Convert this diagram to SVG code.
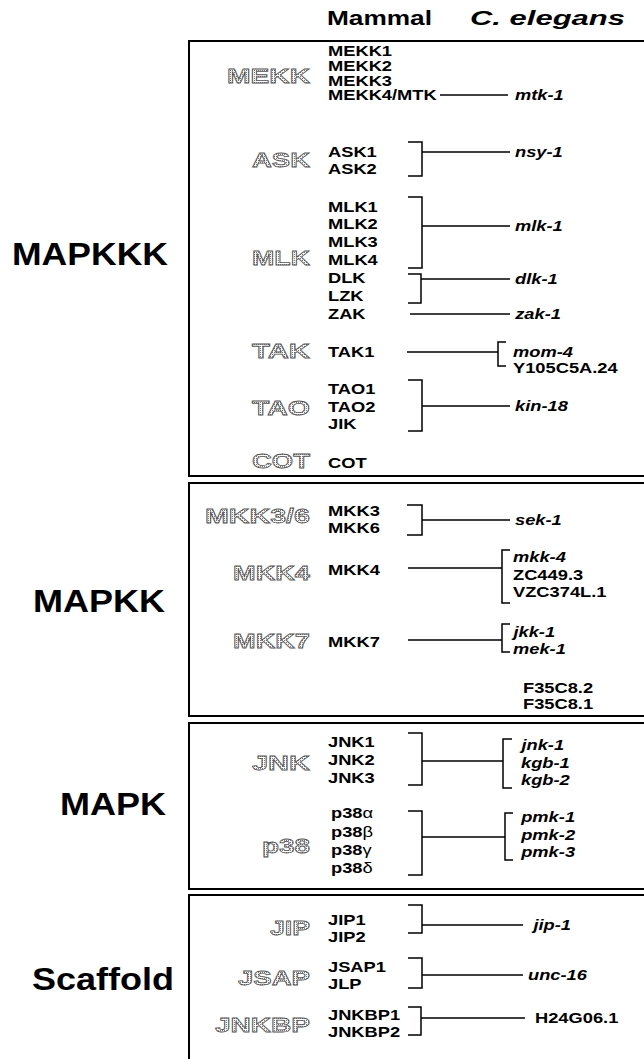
<svg xmlns="http://www.w3.org/2000/svg" width="644" height="1059" viewBox="0 0 644 1059">
<defs>
<pattern id="dots" width="2" height="2" patternUnits="userSpaceOnUse"><rect width="2" height="2" fill="#fff"/><rect width="1" height="1" fill="#7a7a7a"/></pattern>
<style>
.box{fill:none;stroke:#000;stroke-width:2}
.ln{fill:none;stroke:#000;stroke-width:1.5}
.big{font-family:"Liberation Sans",Arial,sans-serif;font-weight:bold;font-size:32px;fill:#000}
.hd{font-family:"Liberation Sans",Arial,sans-serif;font-weight:bold;font-size:21px;fill:#000;transform-box:fill-box;transform-origin:0 0;transform:scale(1.25,1)}
.hdi{font-style:italic}
.fam{font-family:"Liberation Sans",Arial,sans-serif;font-weight:bold;font-size:21px;fill:url(#dots);stroke:#555;stroke-width:0.8}
.nm{font-family:"Liberation Sans",Arial,sans-serif;font-weight:bold;font-size:15px;fill:#000;transform-box:fill-box;transform-origin:0 0;transform:scale(1.22,1)}
.ce{font-style:italic}
.gr{font-weight:normal}
</style>
</defs>
<rect width="644" height="1059" fill="#fff"/>
<g id="sections">
<rect class="box" x="189" y="41" width="520" height="435"/>
<rect class="box" x="189" y="483" width="520" height="233"/>
<rect class="box" x="189" y="723" width="520" height="166"/>
<rect class="box" x="189" y="895" width="520" height="200"/>
</g>
<g id="headers">
<text class="hd" x="327" y="25">Mammal</text>
<text class="hd hdi" x="470" y="25" textLength="124" lengthAdjust="spacingAndGlyphs">C. elegans</text>
</g>
<g id="levels">
<text class="big" x="12" y="265" textLength="156" lengthAdjust="spacingAndGlyphs">MAPKKK</text>
<text class="big" x="33" y="612" textLength="132" lengthAdjust="spacingAndGlyphs">MAPKK</text>
<text class="big" x="60" y="815" textLength="106" lengthAdjust="spacingAndGlyphs">MAPK</text>
<text class="big" x="32" y="990" textLength="142" lengthAdjust="spacingAndGlyphs">Scaffold</text>
</g>
<g id="connectors">
<path class="ln" d="M440 95H508"/>
<path class="ln" d="M408 142H422V176H408M422 152H510"/>
<path class="ln" d="M408 197H422V268H408M422 226H510"/>
<path class="ln" d="M408 274H421V303H408M421 279H510"/>
<path class="ln" d="M410 314H510"/>
<path class="ln" d="M407 352H498M506 342H498V366H506"/>
<path class="ln" d="M408 380H422V431H408M422 406H510"/>
<path class="ln" d="M407 505H422V535H407M422 520H510"/>
<path class="ln" d="M408 568H502M510 550H502V603H510"/>
<path class="ln" d="M408 640H502M510 624H502V652H510"/>
<path class="ln" d="M408 733H422V785H408M422 761H503M512 739H503V788H512"/>
<path class="ln" d="M408 811H422V875H408M422 837H505M513 813H505V860H513"/>
<path class="ln" d="M408 905H422V933H408M422 925H523"/>
<path class="ln" d="M408 958H422V988H408M422 975H523"/>
<path class="ln" d="M408 1007H421V1035H408M421 1018H525"/>
</g>
<g id="mekk">
<text class="fam" x="227" y="83" textLength="83" lengthAdjust="spacingAndGlyphs">MEKK</text>
<text class="nm" x="328" y="56">MEKK1</text>
<text class="nm" x="328" y="71">MEKK2</text>
<text class="nm" x="328" y="86">MEKK3</text>
<text class="nm" x="328" y="100">MEKK4/MTK</text>
<text class="nm ce" x="515" y="100">mtk-1</text>
</g>
<g id="ask">
<text class="fam" x="252" y="167" textLength="58" lengthAdjust="spacingAndGlyphs">ASK</text>
<text class="nm" x="328" y="157">ASK1</text>
<text class="nm" x="328" y="174">ASK2</text>
<text class="nm ce" x="515" y="157">nsy-1</text>
</g>
<g id="mlk">
<text class="fam" x="252" y="265" textLength="58" lengthAdjust="spacingAndGlyphs">MLK</text>
<text class="nm" x="328" y="212">MLK1</text>
<text class="nm" x="328" y="229">MLK2</text>
<text class="nm" x="328" y="247">MLK3</text>
<text class="nm" x="328" y="265">MLK4</text>
<text class="nm" x="328" y="283">DLK</text>
<text class="nm" x="328" y="301">LZK</text>
<text class="nm" x="328" y="319">ZAK</text>
<text class="nm ce" x="515" y="231">mlk-1</text>
<text class="nm ce" x="515" y="284">dlk-1</text>
<text class="nm ce" x="515" y="319">zak-1</text>
</g>
<g id="tak">
<text class="fam" x="252" y="358" textLength="58" lengthAdjust="spacingAndGlyphs">TAK</text>
<text class="nm" x="328" y="357">TAK1</text>
<text class="nm ce" x="513" y="357">mom-4</text>
<text class="nm" x="513" y="373">Y105C5A.24</text>
</g>
<g id="tao">
<text class="fam" x="252" y="415" textLength="58" lengthAdjust="spacingAndGlyphs">TAO</text>
<text class="nm" x="328" y="394">TAO1</text>
<text class="nm" x="328" y="412">TAO2</text>
<text class="nm" x="328" y="429">JIK</text>
<text class="nm ce" x="515" y="411">kin-18</text>
</g>
<g id="cot">
<text class="fam" x="252" y="468" textLength="58" lengthAdjust="spacingAndGlyphs">COT</text>
<text class="nm" x="328" y="468">COT</text>
</g>
<g id="mkk36">
<text class="fam" x="205" y="523" textLength="105" lengthAdjust="spacingAndGlyphs">MKK3/6</text>
<text class="nm" x="328" y="516">MKK3</text>
<text class="nm" x="328" y="533">MKK6</text>
<text class="nm ce" x="515" y="525">sek-1</text>
</g>
<g id="mkk4">
<text class="fam" x="233" y="580" textLength="77" lengthAdjust="spacingAndGlyphs">MKK4</text>
<text class="nm" x="328" y="575">MKK4</text>
<text class="nm ce" x="513" y="562">mkk-4</text>
<text class="nm" x="513" y="580">ZC449.3</text>
<text class="nm" x="513" y="597">VZC374L.1</text>
</g>
<g id="mkk7">
<text class="fam" x="233" y="648" textLength="77" lengthAdjust="spacingAndGlyphs">MKK7</text>
<text class="nm" x="328" y="647">MKK7</text>
<text class="nm ce" x="513" y="637">jkk-1</text>
<text class="nm ce" x="513" y="654">mek-1</text>
</g>
<g id="f35c8">
<text class="nm" x="523" y="693">F35C8.2</text>
<text class="nm" x="523" y="709">F35C8.1</text>
</g>
<g id="jnk">
<text class="fam" x="252" y="770" textLength="58" lengthAdjust="spacingAndGlyphs">JNK</text>
<text class="nm" x="328" y="747">JNK1</text>
<text class="nm" x="328" y="765">JNK2</text>
<text class="nm" x="328" y="783">JNK3</text>
<text class="nm ce" x="521" y="750">jnk-1</text>
<text class="nm ce" x="521" y="768">kgb-1</text>
<text class="nm ce" x="521" y="785">kgb-2</text>
</g>
<g id="p38">
<text class="fam" x="262" y="853" textLength="48" lengthAdjust="spacingAndGlyphs">p38</text>
<text class="nm" x="331" y="818">p38<tspan class="gr">α</tspan></text>
<text class="nm" x="331" y="837">p38<tspan class="gr">β</tspan></text>
<text class="nm" x="331" y="855">p38<tspan class="gr">γ</tspan></text>
<text class="nm" x="331" y="873">p38<tspan class="gr">δ</tspan></text>
<text class="nm ce" x="521" y="822">pmk-1</text>
<text class="nm ce" x="521" y="840">pmk-2</text>
<text class="nm ce" x="521" y="857">pmk-3</text>
</g>
<g id="jip">
<text class="fam" x="270" y="935" textLength="40" lengthAdjust="spacingAndGlyphs">JIP</text>
<text class="nm" x="328" y="925">JIP1</text>
<text class="nm" x="328" y="942">JIP2</text>
<text class="nm ce" x="533" y="930">jip-1</text>
</g>
<g id="jsap">
<text class="fam" x="238" y="985" textLength="72" lengthAdjust="spacingAndGlyphs">JSAP</text>
<text class="nm" x="328" y="972">JSAP1</text>
<text class="nm" x="328" y="989">JLP</text>
<text class="nm ce" x="528" y="980">unc-16</text>
</g>
<g id="jnkbp">
<text class="fam" x="215" y="1032" textLength="95" lengthAdjust="spacingAndGlyphs">JNKBP</text>
<text class="nm" x="328" y="1020">JNKBP1</text>
<text class="nm" x="328" y="1037">JNKBP2</text>
<text class="nm" x="535" y="1023">H24G06.1</text>
</g>
</svg>
